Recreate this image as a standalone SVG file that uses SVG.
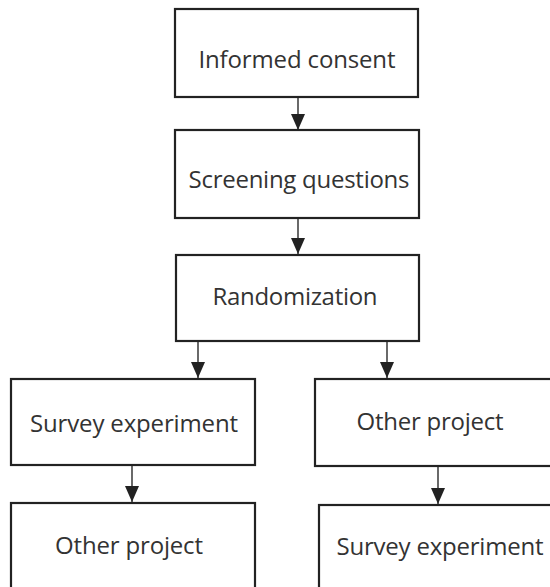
<svg xmlns="http://www.w3.org/2000/svg" width="550" height="587" viewBox="0 0 550 587">
<defs>
<style>
.box{fill:#fff;stroke:#222;stroke-width:2.2}
.lbl{font-family:"Open Sans","Noto Sans",sans-serif;font-size:24px;fill:#333;text-anchor:middle}
.con{stroke:#444;stroke-width:1.6;fill:none}
.head{fill:#222}
</style>
<marker id="ah" viewBox="0 0 16 14" refX="16" refY="7" markerWidth="16" markerHeight="14" markerUnits="userSpaceOnUse" orient="auto">
<path d="M0,0 L16,7 L0,14 Z" class="head"/>
</marker>
</defs>
<rect width="550" height="587" fill="#fff"/>
<g id="connectors">
<line class="con" x1="298" y1="97" x2="298" y2="130" marker-end="url(#ah)"/>
<line class="con" x1="298" y1="218" x2="298" y2="254" marker-end="url(#ah)"/>
<line class="con" x1="198" y1="341" x2="198" y2="378" marker-end="url(#ah)"/>
<line class="con" x1="387" y1="341" x2="387" y2="378" marker-end="url(#ah)"/>
<line class="con" x1="132" y1="465" x2="132" y2="502" marker-end="url(#ah)"/>
<line class="con" x1="438" y1="466" x2="438" y2="504" marker-end="url(#ah)"/>
</g>
<g id="informed-consent">
<rect class="box" x="175" y="9" width="243" height="88"/>
<text class="lbl" x="297" y="68" textLength="197">Informed consent</text>
</g>
<g id="screening-questions">
<rect class="box" x="175" y="130" width="244" height="88"/>
<text class="lbl" x="299" y="188" textLength="221">Screening questions</text>
</g>
<g id="randomization">
<rect class="box" x="176" y="255" width="243" height="86"/>
<text class="lbl" x="295" y="305" textLength="165">Randomization</text>
</g>
<g id="survey-experiment-left">
<rect class="box" x="11" y="379" width="244" height="86"/>
<text class="lbl" x="134" y="432" textLength="208">Survey experiment</text>
</g>
<g id="other-project-left">
<rect class="box" x="11" y="503" width="244" height="100"/>
<text class="lbl" x="129" y="554" textLength="148">Other project</text>
</g>
<g id="other-project-right">
<rect class="box" x="315" y="379" width="250" height="87"/>
<text class="lbl" x="430" y="430" textLength="147">Other project</text>
</g>
<g id="survey-experiment-right">
<rect class="box" x="319" y="505" width="250" height="100"/>
<text class="lbl" x="440" y="555" textLength="207">Survey experiment</text>
</g>
</svg>
